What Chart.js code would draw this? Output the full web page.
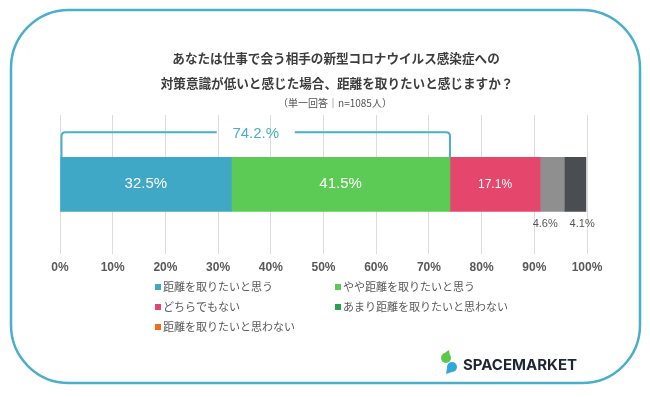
<!DOCTYPE html>
<html><head><meta charset="utf-8">
<script src="https://cdn.jsdelivr.net/npm/chart.js@4"></script>
<style>html,body{margin:0;padding:0;background:#fff}#wrap{position:relative;width:650px;height:397px}</style>
</head><body><div id="wrap"><canvas id="c" width="650" height="397"></canvas></div>
<script>
// ---- data ----
const categories = ['回答'];
const seriesNames = ['距離を取りたいと思う','やや距離を取りたいと思う','どちらでもない','あまり距離を取りたいと思わない','距離を取りたいと思わない'];
const seriesValues = [32.5, 41.5, 17.1, 4.6, 4.1];
const valueLabels = ['32.5%','41.5%','17.1%','4.6%','4.1%'];
const xTickValues = [0,10,20,30,40,50,60,70,80,90,100];
const titleLines = ['あなたは仕事で会う相手の新型コロナウイルス感染症への','対策意識が低いと感じた場合、距離を取りたいと感じますか？'];
const subtitleText = '（単一回答｜n=1085人）';
const bracketText = '74.2.%';
const brandName = 'SPACEMARKET';

// ---- styles ----
const barColors = ['#3FA8C7','#5BCB55','#E4476B','#8F8F8F','#4A4D51'];
const legendColors = ['#3FA8C7','#5BCB55','#E4476B','#2E9E4E','#F26B1D'];
const accent = '#4AAFC8';
const JP = '"Noto Sans CJK JP", "Noto Sans", sans-serif';
const LAT = '"Liberation Sans", Arial, sans-serif';

const overlay = {
  id:'overlay',
  afterDraw(chart){
    const ctx = chart.ctx;
    ctx.save();
    // frame
    ctx.strokeStyle = accent; ctx.lineWidth = 2.5;
    ctx.beginPath(); ctx.roundRect(11,10,629,373,58); ctx.stroke();
    // title
    ctx.fillStyle = '#3d3d3d'; ctx.textAlign='center'; ctx.textBaseline='middle';
    ctx.font = 'bold 12.6px '+JP;
    ctx.fillText(titleLines[0], 336, 58);
    ctx.fillText(titleLines[1], 337, 83);
    ctx.font = '10px '+JP; ctx.fillStyle='#555';
    ctx.fillText(subtitleText, 335, 103);

    // bar-based annotations
    const xs = chart.scales.x;
    const metas = chart.data.datasets.map((d,i)=>chart.getDatasetMeta(i));
    const b0 = metas[0].data[0], b1 = metas[1].data[0];
    const top = b0.y - b0.height/2, bottom = b0.y + b0.height/2;
    const x0 = xs.getPixelForValue(0)+1.5, x1 = b1.x;
    const ly = top - 25;
    const mid = (x0+x1)/2;
    ctx.strokeStyle = accent; ctx.lineWidth = 2;
    ctx.beginPath();
    ctx.moveTo(x0, top); ctx.lineTo(x0, ly+4); ctx.quadraticCurveTo(x0, ly, x0+4, ly); ctx.lineTo(mid-39, ly);
    ctx.moveTo(mid+39, ly); ctx.lineTo(x1-4, ly); ctx.quadraticCurveTo(x1, ly, x1, ly+4); ctx.lineTo(x1, top);
    ctx.stroke();
    ctx.fillStyle = accent; ctx.font = '15px '+LAT;
    ctx.fillText(bracketText, mid, ly+2);

    // value labels
    const insideSizes = [15,15,12];
    metas.forEach((m,i)=>{
      const el = m.data[0];
      const cx = (el.x + el.base)/2;
      if (i < 3) {
        ctx.fillStyle = '#fff'; ctx.font = insideSizes[i]+'px '+LAT;
        ctx.fillText(valueLabels[i], cx, el.y);
      } else {
        const off = i===3 ? -7 : 7;
        ctx.fillStyle = '#555'; ctx.font = '11px '+LAT;
        ctx.fillText(valueLabels[i], cx+off, bottom+13);
      }
    });

    // legend
    const colX = [155, 335], rowY = [287, 307, 327];
    ctx.textAlign='left'; ctx.font = '11px '+JP;
    seriesNames.forEach((n,i)=>{
      const x = colX[i%2], y = rowY[Math.floor(i/2)];
      ctx.fillStyle = legendColors[i]; ctx.fillRect(x, y-3, 6, 6);
      ctx.fillStyle = '#595959'; ctx.fillText(n, x+8, y);
    });

    // logo
    ctx.fillStyle = '#5BC84A';
    ctx.beginPath(); ctx.arc(446, 358, 5, 0, Math.PI*2); ctx.fill();
    ctx.beginPath(); ctx.moveTo(443,354); ctx.lineTo(449,350); ctx.lineTo(450,356); ctx.fill();
    ctx.fillStyle = '#2FA8DC';
    ctx.beginPath(); ctx.arc(452, 367, 5, 0, Math.PI*2); ctx.fill();
    ctx.beginPath(); ctx.moveTo(447,368); ctx.lineTo(446,374); ctx.lineTo(452,372); ctx.fill();
    ctx.fillStyle = '#1E2536'; ctx.font = 'bold 15px Inter, '+LAT;
    ctx.textAlign='left';
    ctx.fillText(brandName, 463, 365, 116);
    ctx.restore();
  }
};

new Chart(document.getElementById('c'), {
  type:'bar',
  data:{
    labels: categories,
    datasets: seriesNames.map((n,i)=>({label:n, data:[seriesValues[i]], backgroundColor:barColors[i], borderWidth:0, barThickness:54}))
  },
  options:{
    indexAxis:'y', responsive:false, animation:false, devicePixelRatio:1,
    layout:{padding:{left:60, right:63, top:115, bottom:115}},
    plugins:{legend:{display:false}, tooltip:{enabled:false}, title:{display:false}},
    scales:{
      x:{stacked:true, min:0, max:100,
        afterBuildTicks(s){ s.ticks = xTickValues.map(v=>({value:v})); },
        ticks:{callback:v=>v+'%', color:'#595959', font:{family:LAT, size:12, weight:'bold'}, padding:7, maxRotation:0},
        grid:{color:'#dcdcdc', drawTicks:false, lineWidth:1},
        border:{display:false}},
      y:{stacked:true, display:false}
    }
  },
  plugins:[overlay]
});
</script></body></html>
